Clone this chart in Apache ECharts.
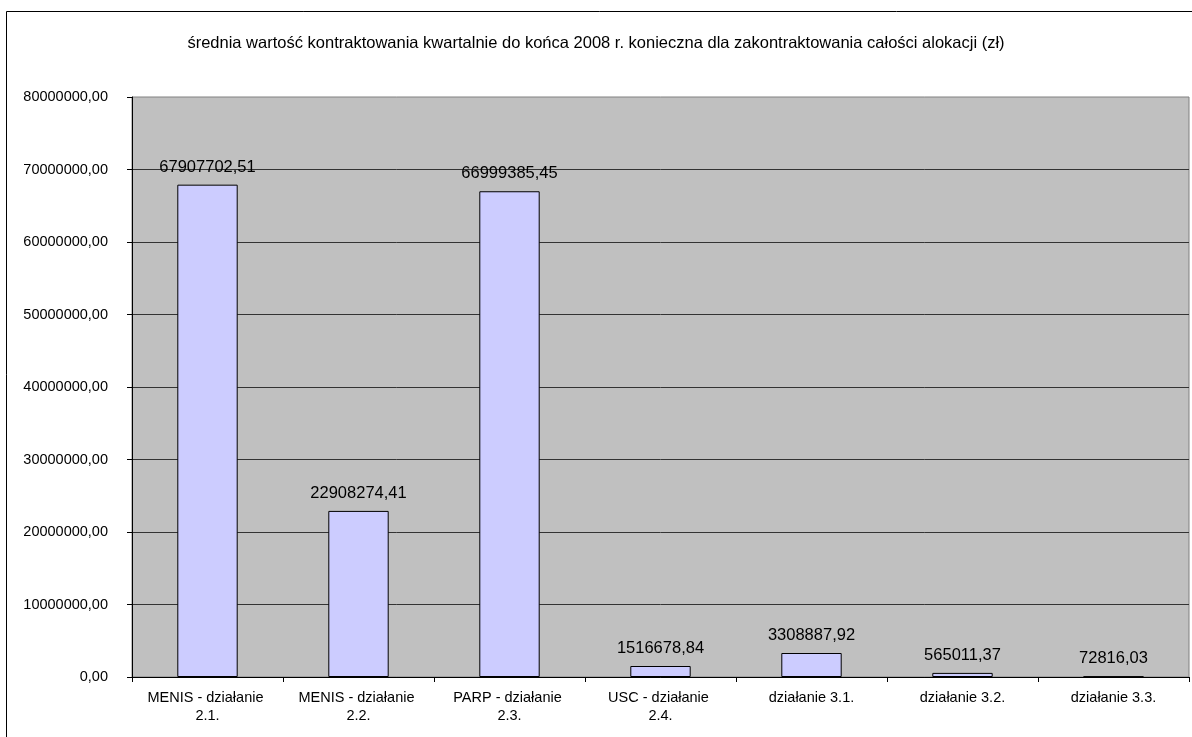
<!DOCTYPE html>
<html>
<head>
<meta charset="utf-8">
<script src="https://cdn.jsdelivr.net/npm/echarts@6/dist/echarts.min.js"></script>
<style>
  html, body { margin: 0; padding: 0; background: #fff; }
  #chart { width: 1192px; height: 737px; }
</style>
</head>
<body>
<div id="chart"></div>
<script>
// Action names along the category axis
const categories = [
  'MENIS - działanie 2.1.',
  'MENIS - działanie 2.2.',
  'PARP - działanie 2.3.',
  'USC - działanie 2.4.',
  'działanie 3.1.',
  'działanie 3.2.',
  'działanie 3.3.'
];

// Average quarterly contracting value (zł)
const values = [
  67907702.51,
  22908274.41,
  66999385.45,
  1516678.84,
  3308887.92,
  565011.37,
  72816.03
];

const titleText = 'średnia wartość kontraktowania kwartalnie do końca 2008 r. konieczna dla zakontraktowania całości alokacji (zł)';

// Polish decimal format: two decimals with a comma separator
const fmt = v => Number(v).toFixed(2).replace('.', ',');

const FONT = '"Liberation Sans", Arial, sans-serif';

const chart = echarts.init(document.getElementById('chart'), null, { renderer: 'canvas' });

chart.setOption({
  animation: false,
  backgroundColor: '#ffffff',
  textStyle: { fontFamily: FONT, color: '#000' },
  graphic: [{
    type: 'rect',
    silent: true,
    shape: { x: 6.5, y: 11.5, width: 1220, height: 800 },
    style: { fill: 'none', stroke: '#000', lineWidth: 1 }
  }],
  title: {
    text: titleText,
    left: 'center',
    top: 30,
    textStyle: { fontFamily: FONT, fontSize: 16.5, fontWeight: 'normal', color: '#000' }
  },
  grid: {
    left: 132,
    right: 3,
    top: 97,
    bottom: 60,
    show: true,
    backgroundColor: '#c0c0c0',
    borderColor: '#808080',
    borderWidth: 1
  },
  xAxis: {
    type: 'category',
    data: categories,
    axisLine: { lineStyle: { color: '#000', width: 1 } },
    axisTick: { show: true, alignWithLabel: false, length: 5, lineStyle: { color: '#000' } },
    axisLabel: {
      interval: 0,
      margin: 12,
      color: '#000',
      fontFamily: FONT,
      fontSize: 14.5,
      lineHeight: 18,
      width: 140,
      overflow: 'break',
      align: 'center'
    },
    splitLine: { show: false }
  },
  yAxis: {
    type: 'value',
    min: 0,
    max: 80000000,
    interval: 10000000,
    axisLine: { show: true, lineStyle: { color: '#000', width: 1 } },
    axisTick: { show: true, length: 5, lineStyle: { color: '#000' } },
    axisLabel: {
      margin: 24,
      color: '#000',
      fontFamily: FONT,
      fontSize: 14.5,
      formatter: fmt
    },
    splitLine: { show: true, showMaxLine: false, lineStyle: { color: '#333', width: 1 } }
  },
  series: [{
    type: 'bar',
    data: values,
    barCategoryGap: '60%',
    itemStyle: { color: '#ccccff', borderColor: '#000', borderWidth: 1 },
    label: {
      show: true,
      position: 'top',
      distance: 9,
      color: '#000',
      fontFamily: FONT,
      fontSize: 16.5,
      formatter: p => fmt(p.value)
    }
  }]
});
</script>
</body>
</html>
